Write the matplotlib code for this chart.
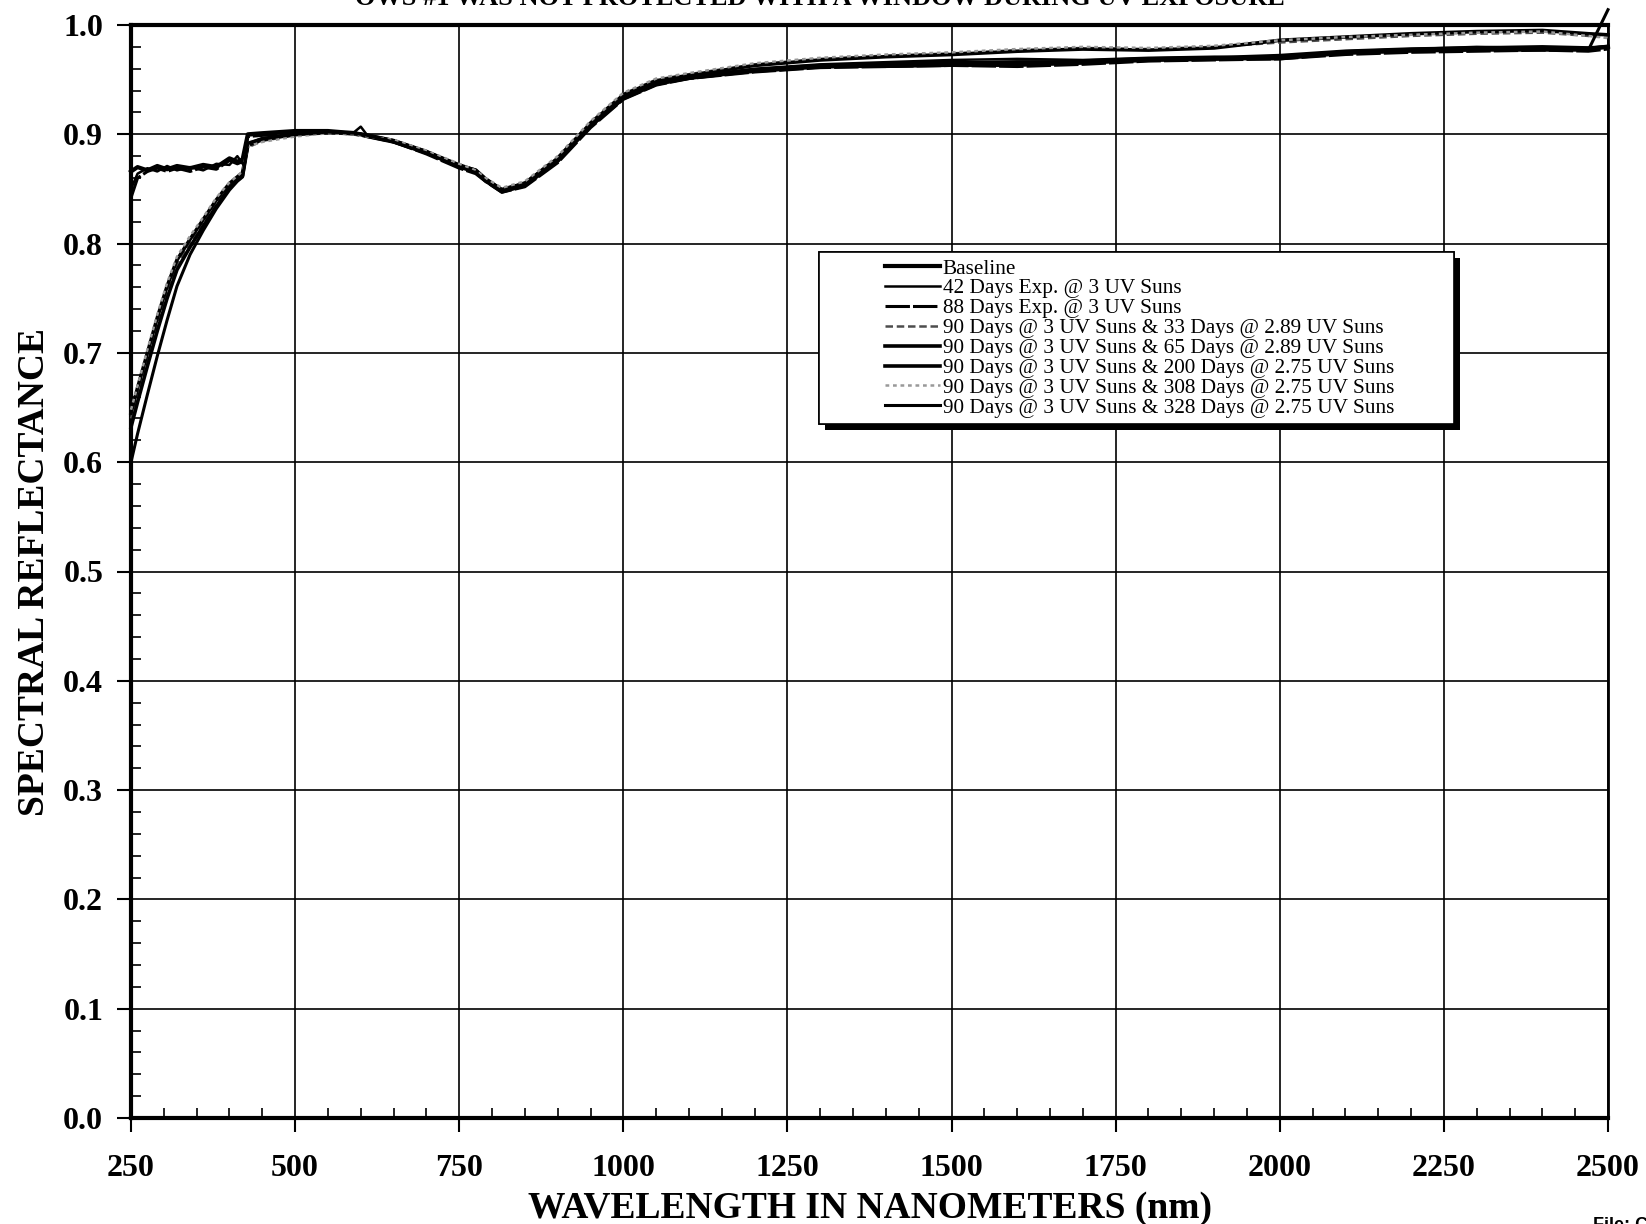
import matplotlib
matplotlib.use("Agg")
import matplotlib.pyplot as plt
from matplotlib.lines import Line2D
from matplotlib.legend_handler import HandlerLine2D
from matplotlib.ticker import MultipleLocator
import matplotlib.patheffects as pe

plt.rcParams['font.family'] = ['Liberation Serif', 'DejaVu Serif']

# ---------------- data ----------------
wavelength = [250, 260, 275, 290, 305, 320, 340, 360, 380, 400, 412, 420, 428, 450, 500,
              550, 590, 600, 610, 650, 700, 750, 775, 790, 815, 850, 900, 950, 1000, 1050,
              1100, 1200, 1300, 1400, 1500, 1600, 1700, 1800, 1900, 2000, 2100, 2200, 2300,
              2400, 2470, 2500]

baseline = [0.866, 0.870, 0.867, 0.871, 0.868, 0.871, 0.869, 0.872, 0.870, 0.878, 0.875, 0.877,
            0.900, 0.901, 0.903, 0.903, 0.901, 0.900, 0.899, 0.894, 0.884, 0.871, 0.867, 0.859,
            0.849, 0.855, 0.877, 0.908, 0.933, 0.946, 0.952, 0.958, 0.962, 0.963, 0.965, 0.966,
            0.966, 0.968, 0.969, 0.971, 0.975, 0.977, 0.978, 0.978, 0.978, 0.980]
days42 = [0.850, 0.864, 0.869, 0.866, 0.871, 0.867, 0.870, 0.867, 0.873, 0.872, 0.880, 0.873,
          0.899, 0.900, 0.902, 0.902, 0.902, 0.907, 0.899, 0.893, 0.883, 0.870, 0.866, 0.858,
          0.848, 0.854, 0.876, 0.908, 0.934, 0.947, 0.953, 0.960, 0.964, 0.966, 0.968, 0.969,
          0.968, 0.970, 0.971, 0.970, 0.976, 0.978, 0.980, 0.979, 0.979, 0.981]
days88 = [0.842, 0.860, 0.866, 0.869, 0.866, 0.869, 0.866, 0.870, 0.868, 0.876, 0.873, 0.875,
          0.898, 0.899, 0.901, 0.902, 0.900, 0.899, 0.898, 0.893, 0.882, 0.869, 0.864, 0.857,
          0.847, 0.852, 0.874, 0.906, 0.932, 0.945, 0.951, 0.957, 0.961, 0.962, 0.963, 0.962,
          0.964, 0.967, 0.968, 0.969, 0.973, 0.975, 0.976, 0.977, 0.976, 0.978]
days90_33 = [0.640, 0.662, 0.695, 0.727, 0.757, 0.781, 0.801, 0.819, 0.837, 0.853, 0.860, 0.864,
             0.888, 0.894, 0.899, 0.901, 0.900, 0.899, 0.898, 0.894, 0.884, 0.872, 0.866, 0.859,
             0.850, 0.856, 0.879, 0.911, 0.937, 0.950, 0.955, 0.964, 0.969, 0.972, 0.974, 0.977,
             0.979, 0.978, 0.980, 0.984, 0.987, 0.990, 0.992, 0.993, 0.990, 0.989]
days90_65 = [0.632, 0.655, 0.688, 0.720, 0.750, 0.776, 0.797, 0.816, 0.834, 0.851, 0.858, 0.862,
             0.890, 0.895, 0.900, 0.902, 0.901, 0.900, 0.898, 0.893, 0.883, 0.871, 0.866, 0.858,
             0.848, 0.853, 0.876, 0.909, 0.934, 0.947, 0.952, 0.959, 0.963, 0.964, 0.966, 0.964,
             0.967, 0.969, 0.970, 0.972, 0.976, 0.978, 0.979, 0.980, 0.979, 0.980]
days90_200 = [0.645, 0.668, 0.700, 0.732, 0.761, 0.785, 0.804, 0.822, 0.840, 0.855, 0.861, 0.865,
              0.891, 0.896, 0.900, 0.902, 0.901, 0.900, 0.899, 0.894, 0.884, 0.872, 0.867, 0.859,
              0.849, 0.855, 0.878, 0.910, 0.936, 0.949, 0.954, 0.963, 0.968, 0.971, 0.973, 0.976,
              0.978, 0.977, 0.979, 0.986, 0.989, 0.992, 0.994, 0.995, 0.992, 0.991]
days90_308 = [0.648, 0.670, 0.703, 0.735, 0.764, 0.788, 0.807, 0.824, 0.842, 0.856, 0.862, 0.866,
              0.889, 0.893, 0.898, 0.901, 0.900, 0.899, 0.898, 0.895, 0.885, 0.873, 0.867, 0.860,
              0.851, 0.857, 0.880, 0.912, 0.938, 0.951, 0.956, 0.965, 0.970, 0.973, 0.975, 0.978,
              0.980, 0.979, 0.981, 0.986, 0.989, 0.991, 0.993, 0.994, 0.990, 0.988]
days90_328 = [0.600, 0.626, 0.662, 0.697, 0.730, 0.761, 0.790, 0.812, 0.832, 0.849, 0.857, 0.861,
              0.892, 0.896, 0.900, 0.902, 0.901, 0.900, 0.899, 0.893, 0.883, 0.870, 0.865, 0.857,
              0.847, 0.853, 0.875, 0.907, 0.933, 0.946, 0.951, 0.958, 0.962, 0.962, 0.963, 0.963,
              0.965, 0.968, 0.969, 0.969, 0.974, 0.976, 0.977, 0.977, 0.977, 1.014]

labels = ["Baseline",
          "42 Days Exp. @ 3 UV Suns",
          "88 Days Exp. @ 3 UV Suns",
          "90 Days @ 3 UV Suns & 33 Days @ 2.89 UV Suns",
          "90 Days @ 3 UV Suns & 65 Days @ 2.89 UV Suns",
          "90 Days @ 3 UV Suns & 200 Days @ 2.75 UV Suns",
          "90 Days @ 3 UV Suns & 308 Days @ 2.75 UV Suns",
          "90 Days @ 3 UV Suns & 328 Days @ 2.75 UV Suns"]
series = [baseline, days42, days88, days90_33, days90_65, days90_200, days90_308, days90_328]

x_ticks = [250, 500, 750, 1000, 1250, 1500, 1750, 2000, 2250, 2500]
y_ticks = [0.0, 0.1, 0.2, 0.3, 0.4, 0.5, 0.6, 0.7, 0.8, 0.9, 1.0]

title = "OWS #1 WAS NOT PROTECTED WITH A WINDOW DURING UV EXPOSURE"

# ---------------- styles ----------------
styles = [dict(color='black', lw=3.0, ls='-'),
          dict(color='black', lw=1.8, ls='-'),
          dict(color='black', lw=2.2, ls=(0, (8, 1))),
          dict(color='0.3', lw=1.8, ls=(0, (3, 1.5))),
          dict(color='black', lw=2.6, ls='-'),
          dict(color='black', lw=2.6, ls='-'),
          dict(color='0.6', lw=1.8, ls=(0, (1.5, 1.5))),
          dict(color='black', lw=2.2, ls='-')]

fig = plt.figure(figsize=(16.46, 12.24), dpi=100)
ax = fig.add_axes([131 / 1646, 1 - 1118 / 1224, 1477 / 1646, 1093 / 1224])

lines = []
for vals, lab, st in zip(series, labels, styles):
    ln, = ax.plot(wavelength, vals, label=lab, clip_on=False, zorder=3, **st)
    lines.append(ln)

ax.set_xlim(250, 2500)
ax.set_ylim(0.0, 1.0)
ax.set_xticks(x_ticks)
ax.set_yticks(y_ticks)
ax.set_xticklabels([str(t) for t in x_ticks])
ax.set_yticklabels([f"{t:.1f}" for t in y_ticks])
ax.xaxis.set_minor_locator(MultipleLocator(50))
ax.yaxis.set_minor_locator(MultipleLocator(0.02))
ax.tick_params(which='major', direction='out', length=10, width=1.5, color='black')
ax.tick_params(which='minor', direction='in', length=7, width=1.2, color='black')
ax.tick_params(axis='x', which='major', pad=16, labelsize=23)
ax.tick_params(axis='y', which='major', pad=10, labelsize=23)
for lbl in ax.get_xticklabels() + ax.get_yticklabels():
    lbl.set_fontweight('bold')

ax.grid(True, which='major', color='black', lw=1.2)
ax.set_axisbelow(True)
for side in ['left', 'bottom', 'top']:
    ax.spines[side].set_linewidth(3.0)
ax.spines['right'].set_linewidth(2.0)

ax.set_xlabel("WAVELENGTH IN NANOMETERS (nm)", fontsize=27, fontweight='bold', labelpad=6)
ax.set_ylabel("SPECTRAL REFLECTANCE", fontsize=27, fontweight='bold', labelpad=8)

fig.text(0.498, 1 - 5 / 1224, title, fontsize=19, fontweight='bold', ha='center', va='baseline')
fig.text(1593 / 1646, -6 / 1224, "File: C", fontsize=13, fontweight='bold',
         family=['Liberation Sans', 'DejaVu Sans'], ha='left', va='baseline')

leg = ax.legend(handles=lines, labels=labels, loc='upper left',
                bbox_to_anchor=(0.466, 0.55, 0.430, 0.242), mode='expand',
                borderaxespad=0, prop={'family': 'Liberation Serif', 'size': 15.3},
                handlelength=5.4, handletextpad=0.1, labelspacing=0.0,
                borderpad=0.3, frameon=True, fancybox=False, framealpha=1,
                edgecolor='black',
                handler_map={Line2D: HandlerLine2D(xpad=2.8)})
leg.get_frame().set_linewidth(1.2)
leg.get_frame().set_path_effects([pe.withSimplePatchShadow(offset=(4, -4), shadow_rgbFace='black', alpha=1.0),
                                  pe.Normal()])
leg.set_zorder(5)

fig.savefig("out.png", dpi=100)
